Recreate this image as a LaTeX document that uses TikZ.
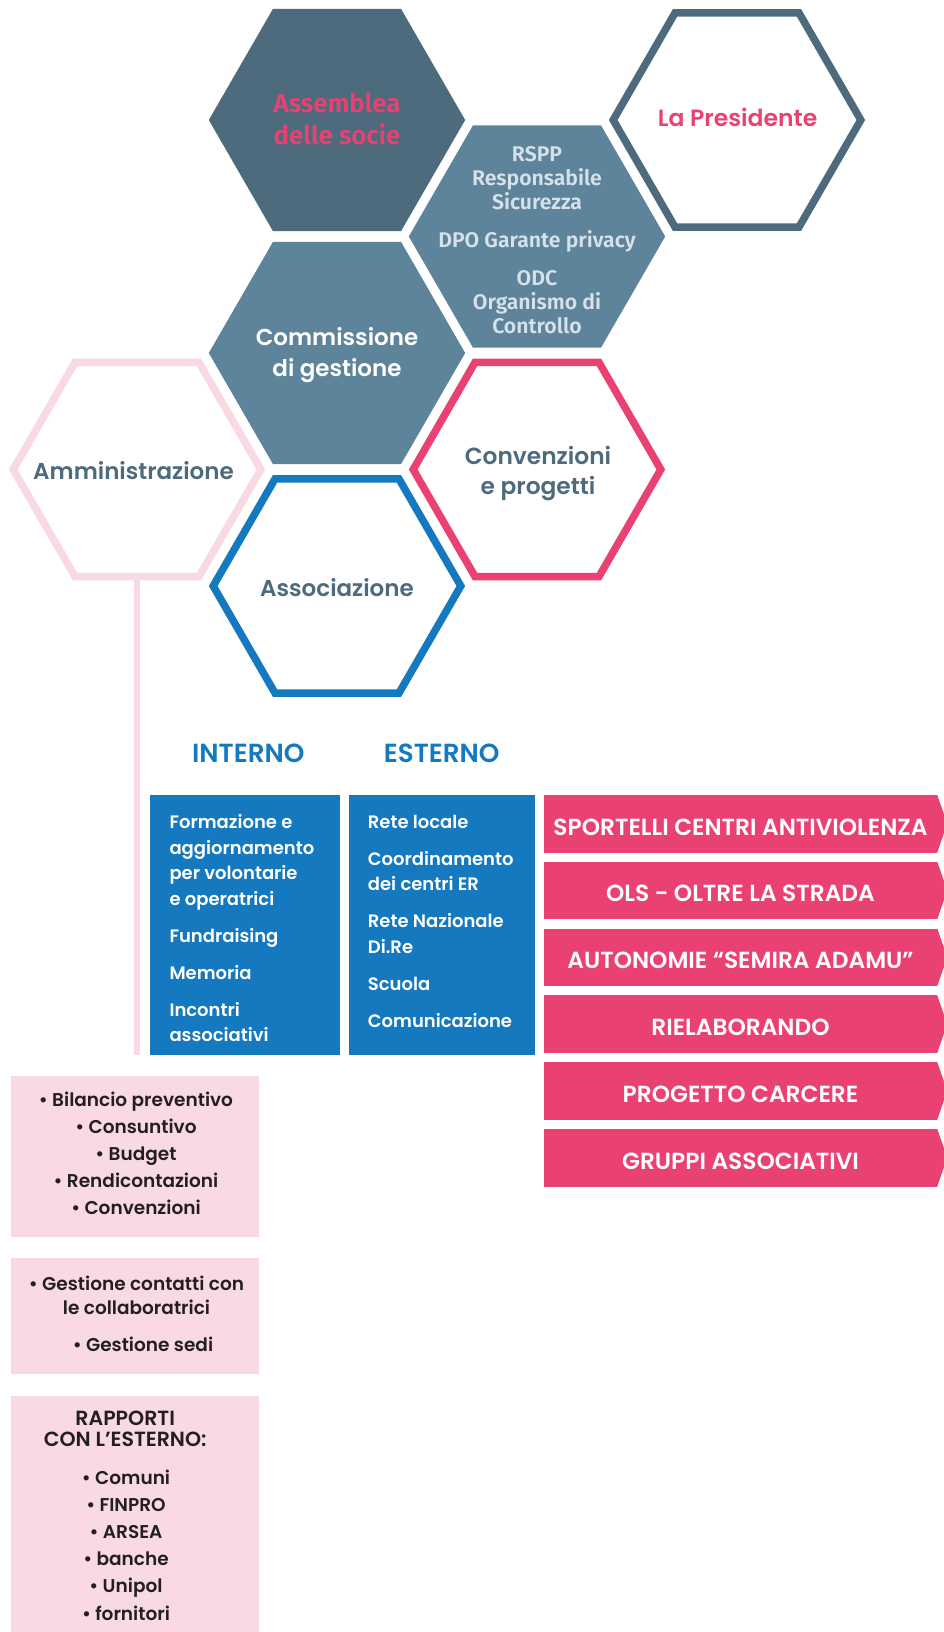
\documentclass[tikz,border=0pt]{standalone}
\usepackage{fontspec}
\usetikzlibrary{shapes.geometric}
\IfFontExistsTF{Poppins SemiBold}{\newfontfamily\popsb{Poppins SemiBold}}{\newfontfamily\popsb{Poppins}[FakeBold=1.2]}
\IfFontExistsTF{Fira Sans SemiBold}{\newfontfamily\firasb{Fira Sans SemiBold}}{\newfontfamily\firasb{Fira Sans}[FakeBold=0.8]}
\definecolor{slate}{HTML}{4D6B7C}
\definecolor{midslate}{HTML}{5E849B}
\definecolor{rose}{HTML}{EA4173}
\definecolor{blush}{HTML}{F9D9E2}
\definecolor{azure}{HTML}{1479BE}
\definecolor{mist}{HTML}{D5E2EA}
\definecolor{ink}{HTML}{231F20}
\begin{document}
\begin{tikzpicture}[x=1pt,y=-1pt,
  hexfill/.style={regular polygon, regular polygon sides=6, minimum size=256.4pt, inner sep=0pt, outer sep=0pt, draw=none},
  hexline/.style={regular polygon, regular polygon sides=6, minimum size=247.6pt, inner sep=0pt, line width=7.5pt, draw},
  hexlbl/.style={align=center, inner sep=0pt, font=\popsb\fontsize{23}{30}\selectfont},
  firalbl/.style={align=center, inner sep=0pt},
  head/.style={inner sep=0pt, anchor=base, text=azure, font=\popsb\fontsize{26.2}{30}\selectfont},
  bluebox/.style={fill=azure, minimum height=260pt, inner sep=0pt},
  bluetxt/.style={anchor=north west, align=left, inner sep=0pt, text=white, font=\popsb\fontsize{18}{25.5}\selectfont},
  tagbox/.style={fill=rose, minimum width=393pt, minimum height=57.5pt, inner sep=0pt, text=white, font=\popsb\fontsize{23.3}{26}\selectfont, text height=22.5pt, text depth=0pt},
  pinkbox/.style={fill=blush, minimum width=247.6pt, inner sep=0pt},
  pinktxt/.style={align=center, inner sep=0pt, text=ink, font=\popsb\fontsize{18.5}{27}\selectfont}
]
\fill[white] (0,0) rectangle (943,1632);
\useasboundingbox (0,0) rectangle (943,1632);

% hexagons
\node[hexfill, fill=slate] (asm) at (337,120) {};
\node[hexline, draw=slate] (pres) at (737,120) {};
\node[hexfill, fill=midslate] (rspp) at (537,236.5) {};
\node[hexfill, fill=midslate] (comm) at (337,353) {};
\node[hexline, draw=blush] (amm) at (137,469.5) {};
\node[hexline, draw=rose] (conv) at (537,469.5) {};
\node[hexline, draw=azure] (assoc) at (337,586) {};

% hexagon labels
\node[firalbl, text=rose, font=\firasb\fontsize{25.8}{31.5}\selectfont] (asmt) at (337,119) {Assemblea\\delle socie};
\node[hexlbl, anchor=base, text=rose, font=\popsb\fontsize{23.5}{30}\selectfont] (prest) at (737.5,127) {La Presidente};
\node[firalbl, text=mist, font=\firasb\fontsize{21.2}{24}\selectfont] (rsppt) at (537,240)
  {RSPP\\Responsabile\\Sicurezza\\[14pt]DPO Garante privacy\\[14pt]ODC\\Organismo di\\Controllo};
\node[hexlbl, text=white, font=\popsb\fontsize{23}{30.5}\selectfont] (commt) at (337,355) {Commissione\\di gestione};
\node[hexlbl, anchor=base, text=slate] (ammt) at (133.5,479.3) {Amministrazione};
\node[hexlbl, text=slate, font=\popsb\fontsize{23.3}{30.6}\selectfont] (convt) at (538,473.5) {Convenzioni\\e progetti};
\node[hexlbl, anchor=base, text=slate] (assoct) at (337,596.3) {Associazione};

% line from Amministrazione
\coordinate (ammend) at (137,1055);
\draw[blush, line width=6pt] (amm.south) -- (ammend);

% Associazione: interno / esterno
\node[head] (inth) at (248.3,762.7) {INTERNO};
\node[head] (exth) at (441.7,762.7) {ESTERNO};
\node[bluebox, minimum width=190pt] (intbox) at (245,925) {};
\node[bluebox, minimum width=186pt] (extbox) at (442,925) {};
\node[bluetxt] (intt) at (169.3,814.5)
  {Formazione e\\aggiornamento\\per volontarie\\e operatrici\\[11.5pt]Fundraising\\[11.5pt]Memoria\\[11.5pt]Incontri\\associativi};
\node[bluetxt] (extt) at (367.7,814.5)
  {Rete locale\\[11.5pt]Coordinamento\\dei centri ER\\[11.5pt]Rete Nazionale\\Di.Re\\[11.5pt]Scuola\\[11.5pt]Comunicazione};

% Convenzioni e progetti: tags
\node[tagbox] (tag1) at (740.5,823.75) {SPORTELLI CENTRI ANTIVIOLENZA};
\node[tagbox] (tag2) at (740.5,890.55) {OLS - OLTRE LA STRADA};
\node[tagbox] (tag3) at (740.5,957.35) {AUTONOMIE “SEMIRA ADAMU”};
\node[tagbox] (tag4) at (740.5,1024.15) {RIELABORANDO};
\node[tagbox] (tag5) at (740.5,1090.95) {PROGETTO CARCERE};
\node[tagbox] (tag6) at (740.5,1157.75) {GRUPPI ASSOCIATIVI};
\foreach \t in {tag1,tag2,tag3,tag4,tag5,tag6}{
  \fill[rose] (\t.north east) -- ++(10,28.75) -- (\t.south east) -- cycle;
}

% Amministrazione: pink boxes
\node[pinkbox, minimum height=160.5pt] (pb1) at (135.2,1156.25) {};
\node[pinkbox, minimum height=116pt] (pb2) at (135.2,1316) {};
\node[pinkbox, minimum height=244pt] (pb3) at (135.2,1518) {};
\node[pinktxt] (pb1t) at (136,1153.5)
  {• Bilancio preventivo\\• Consuntivo\\• Budget\\• Rendicontazioni\\• Convenzioni};
\node[pinktxt, font=\popsb\fontsize{18.5}{24}\selectfont] (pb2t) at (136.5,1295)
  {• Gestione contatti con\\le collaboratrici};
\node[pinktxt, anchor=base] (pb2u) at (143,1351) {• Gestione sedi};
\node[pinktxt, font=\popsb\fontsize{20.5}{21}\selectfont] (pb3h) at (125.2,1429) {RAPPORTI\\CON L’ESTERNO:};
\node[pinktxt, font=\popsb\fontsize{18.5}{27.2}\selectfont] (pb3t) at (126,1545)
  {• Comuni\\• FINPRO\\• ARSEA\\• banche\\• Unipol\\• fornitori};
\end{tikzpicture}
\end{document}
